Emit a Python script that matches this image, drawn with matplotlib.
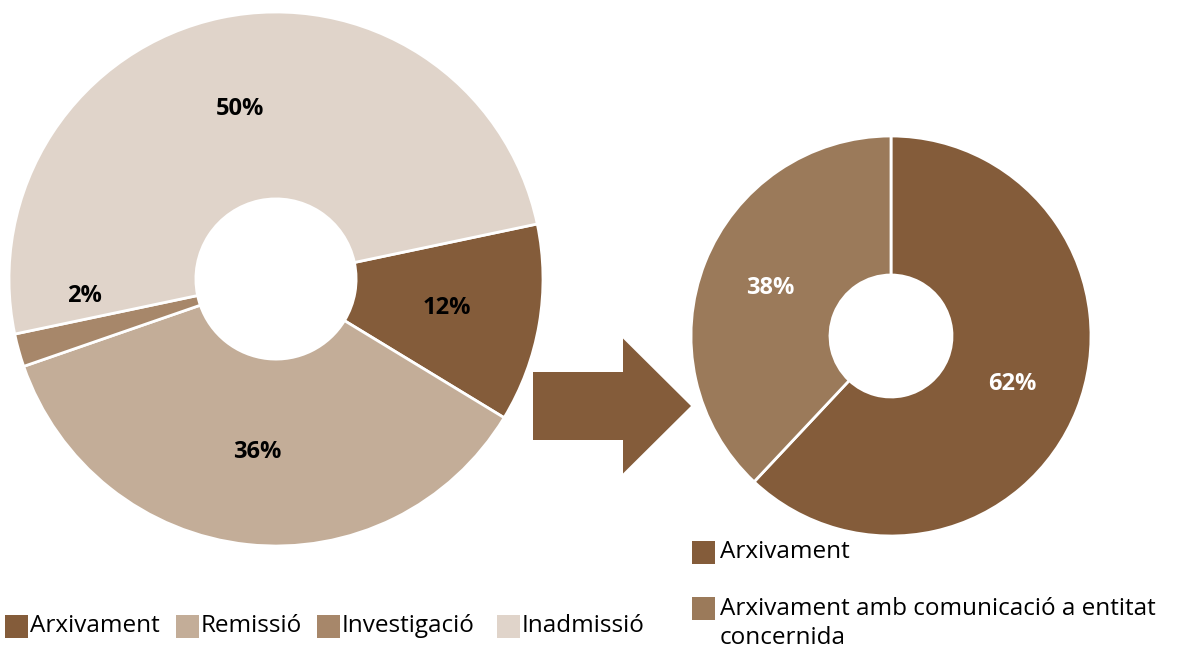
import matplotlib
matplotlib.use("Agg")
import matplotlib.pyplot as plt
from matplotlib.patches import Rectangle, FancyArrow
import numpy as np

plt.rcParams['font.family'] = ['Open Sans', 'DejaVu Sans']

# Data
left_labels = ["Arxivament", "Remissió", "Investigació", "Inadmissió"]
left_values = [12, 36, 2, 50]
left_colors = ["#845C3A", "#C3AD98", "#A7876A", "#E0D4CA"]

right_labels = ["Arxivament", "Arxivament amb comunicació a entitat\nconcernida"]
right_values = [62, 38]
right_colors = ["#845C3A", "#9B7A5A"]

W, H = 1184, 651
fig = plt.figure(figsize=(W / 100, H / 100), dpi=100)
fig.patch.set_facecolor("white")


def add_px_axes(cx, cy, r):
    return fig.add_axes([(cx - r) / W, (H - cy - r) / H, 2 * r / W, 2 * r / H])


def donut(ax, values, colors, start, hole, txtcolor, overrides=None):
    wedges, _ = ax.pie(values, colors=colors, startangle=start, counterclock=False,
                       radius=1, wedgeprops=dict(width=1 - hole, edgecolor="white", linewidth=2))
    for i, w in enumerate(wedges):
        ang = np.deg2rad((w.theta1 + w.theta2) / 2)
        r = 0.65
        x, y = r * np.cos(ang), r * np.sin(ang)
        if overrides and i in overrides:
            x, y = overrides[i]
        ax.text(x, y, f"{values[i]}%", ha="center", va="center", fontsize=17,
                fontweight="bold", color=txtcolor)
    ax.set_xlim(-1, 1)
    ax.set_ylim(-1, 1)
    ax.set_aspect("equal")
    ax.axis("off")


# Left donut
axL = add_px_axes(276, 279, 267)
donut(axL, left_values, left_colors, 11.9, 0.30, "black",
      overrides={2: (-192 / 267, -17 / 267)})

# Right donut
axR = add_px_axes(891, 336, 200)
donut(axR, right_values, right_colors, 90, 0.305, "white")

# Overlay axes in pixel coordinates
ov = fig.add_axes([0, 0, 1, 1], zorder=-1)
ov.set_xlim(0, W)
ov.set_ylim(H, 0)
ov.axis("off")

ov.add_patch(FancyArrow(533, 406, 158, 0, width=68, head_width=135, head_length=68,
                        length_includes_head=True, color="#845C3A", linewidth=0))

# Left legend
fs = 17.5
lx = [5, 176, 317, 497]
for x, lab, col in zip(lx, left_labels, left_colors):
    ov.add_patch(Rectangle((x, 615), 23, 23, color=col, linewidth=0))
    ov.text(x + 25, 626, lab, fontsize=fs, va="center", ha="left", color="black")

# Right legend
ov.add_patch(Rectangle((692, 541), 23, 23, color=right_colors[0], linewidth=0))
ov.text(720, 552, right_labels[0], fontsize=fs, va="center", ha="left", color="black")
ov.add_patch(Rectangle((692, 597), 23, 23, color=right_colors[1], linewidth=0))
ov.text(720, 597, right_labels[1], fontsize=fs, va="top", ha="left", color="black",
        linespacing=1.3)

fig.savefig("out.png", dpi=100)
